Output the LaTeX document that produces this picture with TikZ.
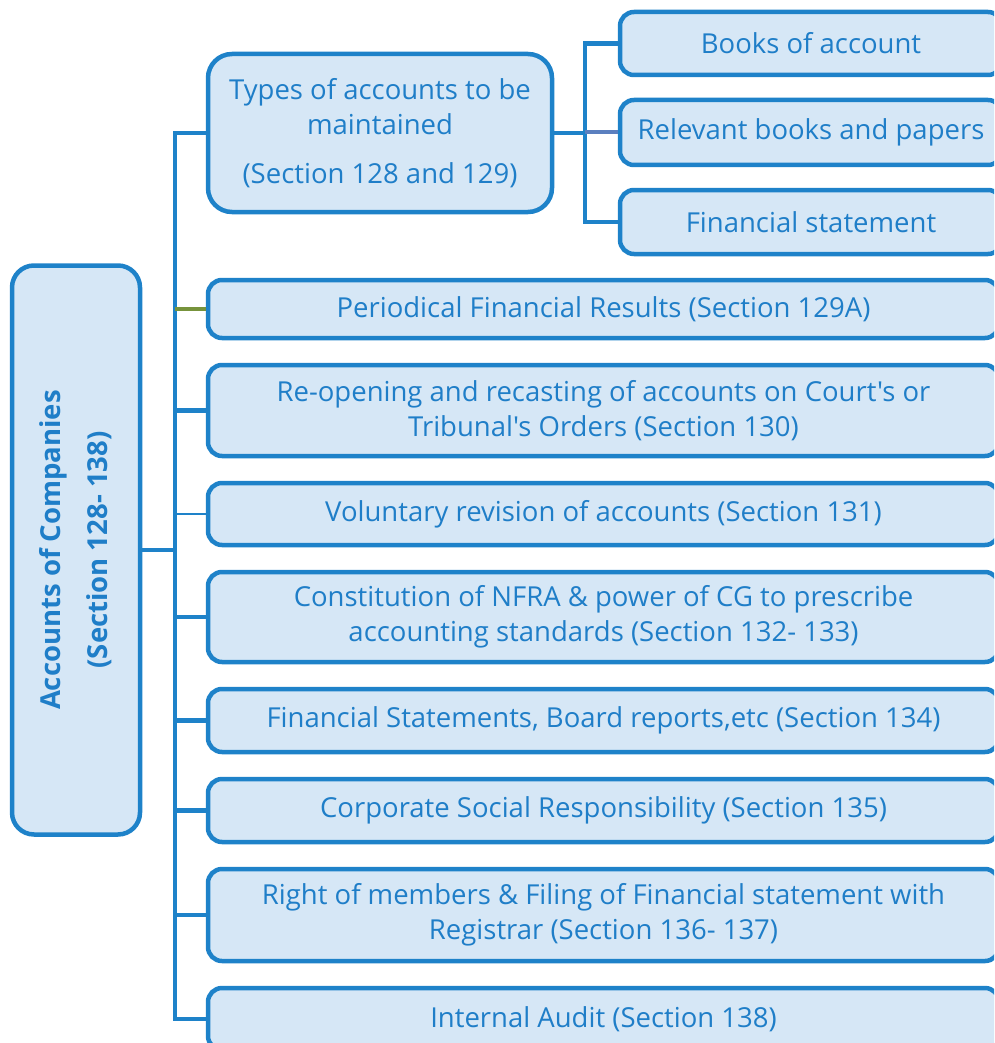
\documentclass[tikz,border=0pt]{standalone}
\usepackage{fontspec}
\setmainfont{Open Sans}[Ligatures=TeXOff]
\definecolor{edge}{HTML}{1E82C9}
\definecolor{boxfill}{HTML}{D6E7F6}
\definecolor{ink}{HTML}{1F7EC8}
\definecolor{olive}{HTML}{77933C}
\definecolor{slate}{HTML}{5B7FBF}
\tikzset{
  card/.style={draw=edge, fill=boxfill, line width=4.5pt, rounded corners=14pt,
    text=ink, align=center, inner sep=0pt, font=\fontsize{27.5}{35}\selectfont},
  wide/.style={card, minimum width=791pt},
  sub/.style={card, minimum width=382pt},
  link/.style={draw=edge, line width=4.5pt},
}
\begin{document}
\begin{tikzpicture}[x=1pt,y=-1pt]
\useasboundingbox (0,0) rectangle (994,1043);
\clip (0,0) rectangle (994,1043);
% trunk positions
\coordinate (tk) at (175,0);
\coordinate (sk) at (585,0);
% root
\node[card, rounded corners=22pt, minimum width=128pt, minimum height=569pt] (root) at (76,550) {};
\node[rotate=90, text=ink, align=center, font=\fontsize{27.5}{47}\bfseries\selectfont] at (root.center)
  {Accounts of Companies\\(Section 128- 138)};
% first branch and its sub-items
\node[card, rounded corners=24pt, minimum width=344pt, minimum height=158pt] (t1) at (380,133)
  {Types of accounts to be\\maintained\\[14pt](Section 128 and 129)};
\node[sub, minimum height=63pt] (b1) at (811,43.5) {Books of account};
\node[sub, minimum height=65pt] (b2) at (811,132.5) {Relevant books and papers};
\node[sub, minimum height=64pt] (b3) at (811,222) {Financial statement};
% remaining branches
\node[wide, minimum height=58pt] (p1) at (603.5,309) {Periodical Financial Results (Section 129A)};
\node[wide, minimum height=91pt] (p2) at (603.5,410.5) {Re-opening and recasting of accounts on Court's or\\Tribunal's Orders (Section 130)};
\node[wide, minimum height=62pt] (p3) at (603.5,514) {Voluntary revision of accounts (Section 131)};
\node[wide, minimum height=90pt] (p4) at (603.5,617) {Constitution of NFRA \& power of CG to prescribe\\accounting standards (Section 132- 133)};
\node[wide, minimum height=63pt] (p5) at (603.5,720.5) {Financial Statements, Board reports,etc (Section 134)};
\node[wide, minimum height=63pt] (p6) at (603.5,810.5) {Corporate Social Responsibility (Section 135)};
\node[wide, minimum height=92pt] (p7) at (603.5,915) {Right of members \& Filing of Financial statement with\\Registrar (Section 136- 137)};
\node[wide, minimum height=62pt] (p8) at (603.5,1019) {Internal Audit (Section 138)};
% connectors
\draw[link] (root.east) -- (root.east -| tk);
\draw[link, line join=miter] (t1.west) -- (t1.west -| tk) -- (p8.west -| tk) -- (p8.west);
\foreach \n in {p2,p4,p5,p6,p7} \draw[link] (\n.west -| tk) -- (\n.west);
\draw[draw=olive, line width=4.5pt] (p1.west -| tk) -- (p1.west);
\draw[draw=edge, line width=1.5pt] (p3.west -| tk) -- (p3.west);
\draw[link] (t1.east) -- (t1.east -| sk);
\draw[link, line join=miter] (b1.west) -- (b1.west -| sk) -- (b3.west -| sk) -- (b3.west);
\draw[draw=slate, line width=4pt] (b2.west -| sk) -- (b2.west);
\end{tikzpicture}
\end{document}
